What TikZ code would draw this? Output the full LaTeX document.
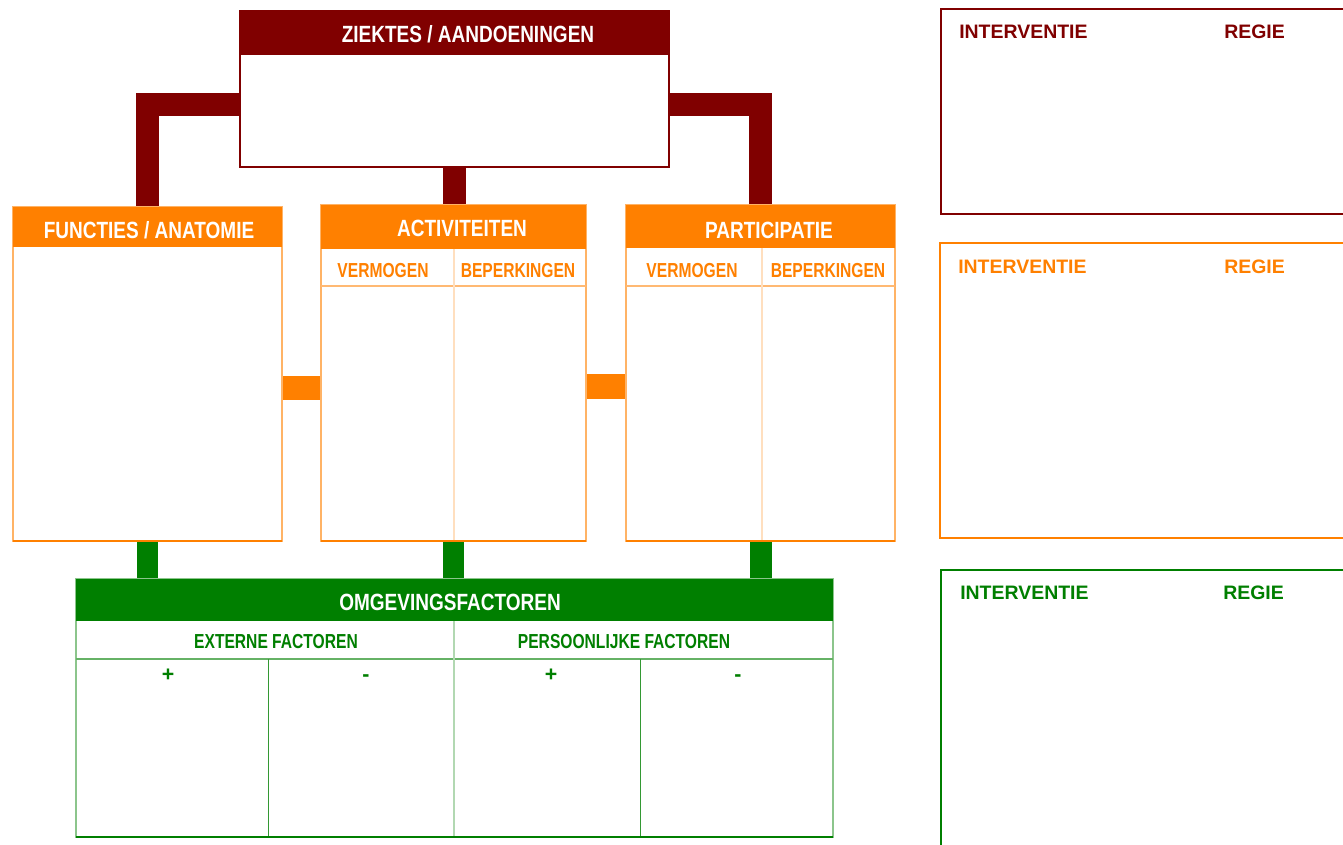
\documentclass[tikz,border=0pt]{standalone}
\usepackage{fontspec}
\setmainfont{Liberation Sans}
\newfontfamily\narrowhdr[FakeStretch=0.81]{Liberation Sans}
\newfontfamily\narrowsub[FakeStretch=0.77]{Liberation Sans}
\usetikzlibrary{calc,backgrounds}
\definecolor{dred}{HTML}{800000}
\definecolor{oran}{HTML}{FF8000}
\definecolor{grn}{HTML}{007F00}
\begin{document}
\begin{tikzpicture}[x=0.75pt,y=-0.75pt,
  box/.style={anchor=north west, inner sep=0pt, outer sep=0pt, fill=white},
  band/.style={anchor=north west, inner sep=0pt, outer sep=0pt},
  hdrtxt/.style={inner sep=0pt, text=white, font=\narrowhdr\fontsize{17.6}{20}\selectfont\bfseries, text height=12.6pt, text depth=0pt},
  subtxt/.style={inner sep=0pt, font=\narrowsub\fontsize{15.2}{18}\selectfont\bfseries, text height=10.9pt, text depth=0pt},
  signtxt/.style={inner sep=0pt, anchor=base, font=\fontsize{16}{18}\selectfont\bfseries},
  pantxt/.style={inner sep=0pt, anchor=west, font=\fontsize{14.6}{17}\selectfont\bfseries, text height=10.5pt, text depth=0pt},
  conn/.style={line width=17.25pt, line cap=butt, line join=miter},
]
\clip (0,0) rectangle (1343,845);

% ---------- Ziektes ----------
\node[box, draw=dred, line width=1.5pt, minimum width=429*0.75pt, minimum height=156*0.75pt] (ziektes) at (240,11) {};
\node[band, fill=dred, minimum width=429*0.75pt, minimum height=44*0.75pt] (ziektesH) at (240,11) {};
\node[hdrtxt] (ziektesT) at (468,34) {ZIEKTES / AANDOENINGEN};

% ---------- Functies ----------
\node[box, draw=oran!60, line width=0.9pt, minimum width=269*0.75pt, minimum height=334*0.75pt] (functies) at (13,207) {};
\node[band, fill=oran, minimum width=269*0.75pt, minimum height=40*0.75pt] (functiesH) at (13,207) {};
\node[hdrtxt] (functiesT) at (149,230) {FUNCTIES / ANATOMIE};
\draw[oran, line width=1.5pt] (functies.south west) -- (functies.south east);

% ---------- Activiteiten ----------
\node[box, draw=oran!60, line width=0.9pt, minimum width=265*0.75pt, minimum height=336*0.75pt] (activ) at (321,205) {};
\node[band, fill=oran, minimum width=265*0.75pt, minimum height=44*0.75pt] (activH) at (321,205) {};
\node[hdrtxt] (activT) at (462,228) {ACTIVITEITEN};
\draw[oran!55, line width=0.9pt] (activ.west |- 0,286) coordinate (aL) -- (activ.east |- 0,286) coordinate (aR);
\draw[oran!25, line width=0.9pt] (454,249) coordinate (aD1) -- (454,541) coordinate (aD2);
\node[subtxt, text=oran] (activV) at (383,270) {VERMOGEN};
\node[subtxt, text=oran] (activB) at (518,270) {BEPERKINGEN};
\draw[oran, line width=1.5pt] (activ.south west) -- (activ.south east);

% ---------- Participatie ----------
\node[box, draw=oran!60, line width=0.9pt, minimum width=269*0.75pt, minimum height=336*0.75pt] (partic) at (626,205) {};
\node[band, fill=oran, minimum width=269*0.75pt, minimum height=43*0.75pt] (particH) at (626,205) {};
\node[hdrtxt] (particT) at (769,230) {PARTICIPATIE};
\draw[oran!55, line width=0.9pt] (partic.west |- 0,286) coordinate (pL) -- (partic.east |- 0,286) coordinate (pR);
\draw[oran!25, line width=0.9pt] (762,248) coordinate (pD1) -- (762,541) coordinate (pD2);
\node[subtxt, text=oran] (particV) at (692,270) {VERMOGEN};
\node[subtxt, text=oran] (particB) at (828,270) {BEPERKINGEN};
\draw[oran, line width=1.5pt] (partic.south west) -- (partic.south east);

% ---------- Omgevingsfactoren ----------
\node[box, draw=grn!45, line width=0.9pt, minimum width=757*0.75pt, minimum height=258*0.75pt] (omgev) at (76,579) {};
\node[band, fill=grn, minimum width=757*0.75pt, minimum height=42*0.75pt] (omgevH) at (76,579) {};
\node[hdrtxt] (omgevT) at (450,602) {OMGEVINGSFACTOREN};
\draw[grn!60, line width=0.9pt] (omgev.west |- 0,659) coordinate (oL) -- (omgev.east |- 0,659) coordinate (oR);
\draw[grn!30, line width=0.9pt] (454,621) coordinate (oD1) -- (454,837) coordinate (oD2);
\draw[grn!80, line width=0.75pt] (268,659) coordinate (oD3) -- (268,837) coordinate (oD4);
\draw[grn!80, line width=0.75pt] (640,659) coordinate (oD5) -- (640,837) coordinate (oD6);
\draw[grn, line width=1.5pt] (omgev.south west) -- (omgev.south east);
\node[subtxt, text=grn] (extT) at (276,641) {EXTERNE FACTOREN};
\node[subtxt, text=grn] (persT) at (624,641) {PERSOONLIJKE FACTOREN};
\node[signtxt, text=grn] (p1) at (168,681) {+};
\node[signtxt, text=grn] (m1) at (366,681) {-};
\node[signtxt, text=grn] (p2) at (551,681) {+};
\node[signtxt, text=grn] (m2) at (738,681) {-};

% ---------- Connectors ----------
\begin{scope}[on background layer]
\draw[conn, dred] ([yshift=-11.6pt]ziektes.west) -| (functies.north);
\draw[conn, dred] (ziektes.south) -- (ziektes.south |- activ.north);
\draw[conn, dred] ([yshift=-11.6pt]ziektes.east) -| (partic.north);
\draw[oran, line width=18pt] ([yshift=-10.5pt]functies.east) -- ([yshift=-10.5pt]functies.east -| activ.west);
\draw[oran, line width=19pt] ([yshift=-10pt]activ.east) -- ([yshift=-10pt]activ.east -| partic.west);
\draw[grn, line width=15.75pt] (functies.south) -- (functies.south |- omgev.north);
\draw[grn, line width=15.75pt] (activ.south) -- (activ.south |- omgev.north);
\draw[grn, line width=16.5pt] (partic.south) -- (partic.south |- omgev.north);
\end{scope}

% ---------- Right panels ----------
\node[box, draw=dred, line width=1.5pt, minimum width=420*0.75pt, minimum height=205*0.75pt] (panR) at (941,9) {};
\node[pantxt, text=dred] (panRi) at (959,32) {INTERVENTIE};
\node[pantxt, text=dred] (panRr) at (1224,32) {REGIE};

\node[box, draw=oran, line width=1.5pt, minimum width=420*0.75pt, minimum height=295*0.75pt] (panO) at (940,243) {};
\node[pantxt, text=oran] (panOi) at (958,266) {INTERVENTIE};
\node[pantxt, text=oran] (panOr) at (1224,266) {REGIE};

\node[box, draw=grn, line width=1.5pt, minimum width=420*0.75pt, minimum height=300*0.75pt] (panG) at (941,570) {};
\node[pantxt, text=grn] (panGi) at (960,592) {INTERVENTIE};
\node[pantxt, text=grn] (panGr) at (1223,592) {REGIE};
\end{tikzpicture}
\end{document}
